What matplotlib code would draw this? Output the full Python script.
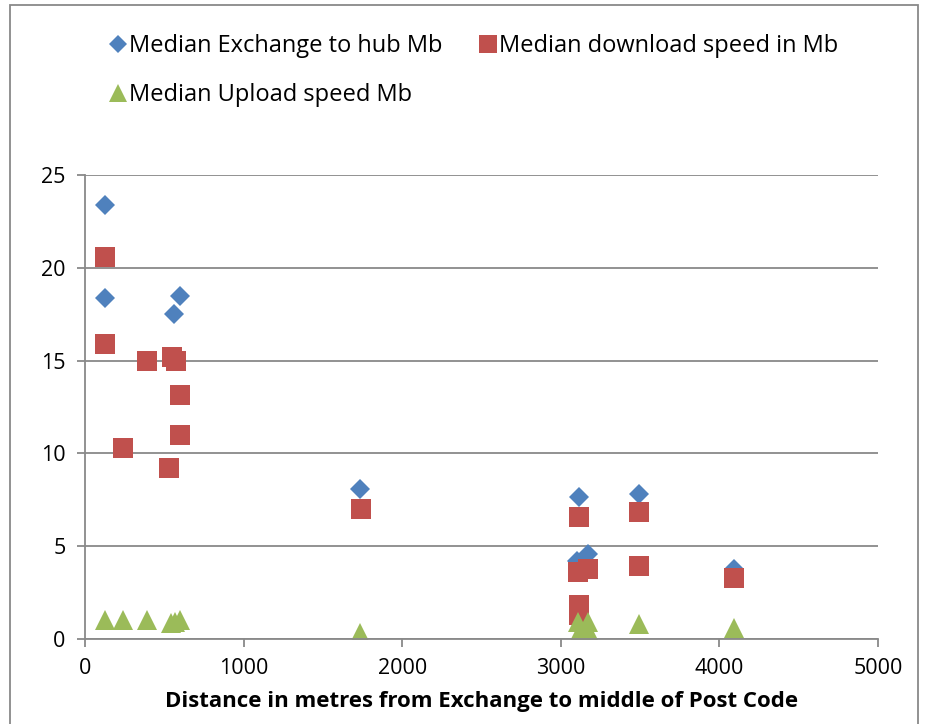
import numpy as np
import matplotlib.pyplot as plt

plt.rcParams['font.family'] = ['Open Sans', 'DejaVu Sans']

# Median Exchange to hub Mb
hub_x = [126, 126, 561, 600, 1735, 3115, 3493, 3100, 3172, 4092]
hub_y = [23.4, 18.4, 17.5, 18.5, 8.1, 7.65, 7.8, 4.2, 4.6, 3.8]

# Median download speed in Mb
down_x = [126, 126, 391, 549, 574, 600, 598, 240, 530, 1740,
          3115, 3493, 3110, 3172, 3493, 4092, 3115, 3115]
down_y = [20.6, 15.9, 15.0, 15.2, 15.0, 13.15, 11.0, 10.3, 9.2, 7.0,
          6.6, 6.85, 3.6, 3.8, 3.95, 3.3, 1.85, 1.3]

# Median Upload speed Mb
up_x = [126, 240, 391, 540, 570, 600, 1735, 3110, 3115, 3172, 3172, 3493, 4092]
up_y = [1.0, 1.0, 1.0, 0.85, 0.9, 1.0, 0.35, 0.9, 0.3, 0.5, 0.9, 0.8, 0.6]

fig = plt.figure(figsize=(9.28, 7.24), dpi=100)
ax = fig.add_axes([0.0916, 0.1174, 0.8545, 0.6406])

grid = '#898989'
h1, = ax.plot(hub_x, hub_y, 'D', color='#4F81BD', markersize=10, markeredgewidth=0, linestyle='none')
h2, = ax.plot(down_x, down_y, 's', color='#C0504D', markersize=14, markeredgewidth=0, linestyle='none')
h3, = ax.plot(up_x, up_y, '^', color='#9BBB59', markersize=14, markeredgewidth=0, linestyle='none')

ax.set_xlim(0, 5000)
ax.set_ylim(0, 25)
ax.set_xticks(np.arange(0, 5001, 1000))
ax.set_yticks(np.arange(0, 26, 5))
ax.yaxis.grid(True, color=grid, linewidth=1.3)
ax.set_axisbelow(True)
for s in ['top', 'right']:
    ax.spines[s].set_visible(False)
for s in ['left', 'bottom']:
    ax.spines[s].set_color(grid)
    ax.spines[s].set_linewidth(1.3)
ax.tick_params(axis='both', colors=grid, labelcolor='black', labelsize=15.5, length=6, width=1.3)
ax.tick_params(axis='y', pad=8)
ax.tick_params(axis='x', pad=8)
ax.set_xlabel('Distance in metres from Exchange to middle of Post Code',
              fontsize=16, fontweight='bold', labelpad=8)

fig.legend([h1, h3, h2],
           ['Median Exchange to hub Mb', 'Median Upload speed Mb', 'Median download speed in Mb'],
           ncol=2, loc='upper left', bbox_to_anchor=(0.091, 0.982), frameon=False,
           fontsize=17, labelspacing=1.05, handletextpad=0.0, columnspacing=1.4,
           handlelength=1.0, markerscale=0.9)

# outer chart border
fig.patches.append(plt.Rectangle((0.011, -0.01), 0.978, 1.003, transform=fig.transFigure,
                                 fill=False, edgecolor=grid, linewidth=1.3))

fig.savefig('out.png', dpi=100)
